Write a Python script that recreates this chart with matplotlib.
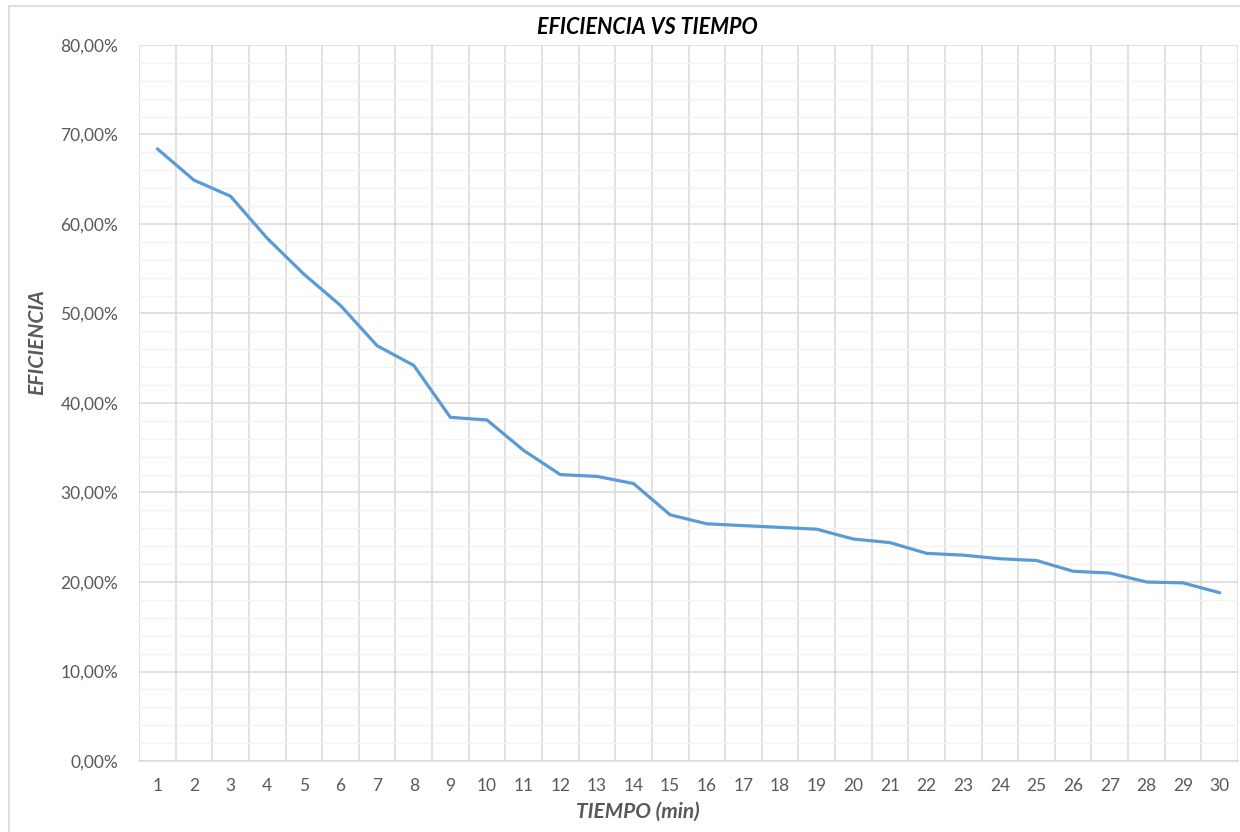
import matplotlib.pyplot as plt
from matplotlib.lines import Line2D
from matplotlib.ticker import MultipleLocator, FuncFormatter

# Datos
tiempo = list(range(1, 31))
eficiencia = [68.4, 64.9, 63.1, 58.4, 54.4, 50.9, 46.4, 44.2, 38.4, 38.1,
              34.7, 32.0, 31.8, 31.0, 27.5, 26.5, 26.3, 26.1, 25.9, 24.8,
              24.4, 23.2, 23.0, 22.6, 22.4, 21.2, 21.0, 20.0, 19.9, 18.8]

titulo = "EFICIENCIA VS TIEMPO"
etiqueta_x = "TIEMPO (min)"
etiqueta_y = "EFICIENCIA"

plt.rcParams['font.family'] = ['Lato', 'DejaVu Sans']

fig = plt.figure(figsize=(12.4, 8.32), dpi=100)
ax = fig.add_axes([139 / 1240, 71 / 832, 1099 / 1240, 716 / 832])

ax.plot(tiempo, eficiencia, color='#5B9BD5', linewidth=2.3, solid_capstyle='round')

ax.set_xlim(0.5, 30.5)
ax.set_ylim(0, 80)
ax.set_xticks(tiempo)
ax.set_xticks([t + 0.5 for t in range(0, 31)], minor=True)
ax.yaxis.set_major_locator(MultipleLocator(10))
ax.yaxis.set_minor_locator(MultipleLocator(2))
ax.yaxis.set_major_formatter(FuncFormatter(lambda v, p: f"{v:.2f}%".replace('.', ',')))

ax.grid(which='minor', axis='x', color='#D9D9D9', linewidth=1.1)
ax.grid(which='major', axis='y', color='#D9D9D9', linewidth=1.1)
ax.grid(which='minor', axis='y', color='#F2F2F2', linewidth=1.0)
ax.set_axisbelow(True)

for s in ['top', 'right', 'left']:
    ax.spines[s].set_visible(False)
ax.spines['bottom'].set_color('#D9D9D9')
ax.spines['bottom'].set_linewidth(1.1)

ax.tick_params(which='both', length=0, colors='#595959', labelsize=12.5)
ax.tick_params(axis='x', pad=12)
ax.tick_params(axis='y', pad=15)

fig.text(647 / 1240, 1 - 28 / 832, titulo, ha='center', va='center',
         fontsize=15.5, fontweight='bold', fontstyle='italic', color='#000000')
fig.text(638 / 1240, 1 - 812 / 832, etiqueta_x, ha='center', va='center',
         fontsize=15, fontweight='bold', fontstyle='italic', color='#595959')
fig.text(37 / 1240, 1 - 342 / 832, etiqueta_y, ha='center', va='center', rotation=90,
         fontsize=15, fontweight='bold', fontstyle='italic', color='#595959')

# borde del area del grafico
fig.add_artist(Line2D([9 / 1240, 9 / 1240], [0, 1 - 6 / 832], transform=fig.transFigure,
                      color='#D9D9D9', linewidth=1.2))
fig.add_artist(Line2D([9 / 1240, 1], [1 - 6 / 832, 1 - 6 / 832], transform=fig.transFigure,
                      color='#D9D9D9', linewidth=1.2))

fig.savefig('out.png', dpi=100)
